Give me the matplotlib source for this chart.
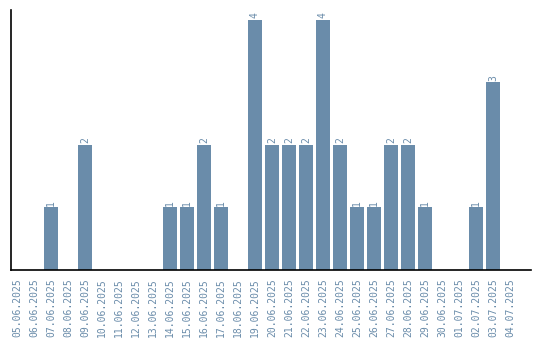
import matplotlib
matplotlib.use("Agg")
import matplotlib.pyplot as plt

dates = ["05.06.2025", "06.06.2025", "07.06.2025", "08.06.2025", "09.06.2025",
         "10.06.2025", "11.06.2025", "12.06.2025", "13.06.2025", "14.06.2025",
         "15.06.2025", "16.06.2025", "17.06.2025", "18.06.2025", "19.06.2025",
         "20.06.2025", "21.06.2025", "22.06.2025", "23.06.2025", "24.06.2025",
         "25.06.2025", "26.06.2025", "27.06.2025", "28.06.2025", "29.06.2025",
         "30.06.2025", "01.07.2025", "02.07.2025", "03.07.2025", "04.07.2025"]
counts = [0, 0, 1, 0, 2, 0, 0, 0, 0, 1,
          1, 2, 1, 0, 4, 2, 2, 2, 4, 2,
          1, 1, 2, 2, 1, 0, 0, 1, 3, 0]

color = "#6a8caa"
fig = plt.figure(figsize=(5.4, 3.4), dpi=100)
ax = fig.add_axes([0.0204, 0.206, 0.963, 0.765])
x = list(range(len(dates)))
bars = ax.bar(x, counts, width=0.82, color=color)
for xi, v in zip(x, counts):
    if v > 0:
        ax.text(xi, v + 0.03, str(v), rotation=90, ha="center", va="bottom",
                color=color, fontsize=7, family="DejaVu Sans Mono")
ax.set_xticks(x)
ax.set_xticklabels(dates, rotation=90, color=color, fontsize=7, family="DejaVu Sans Mono")
ax.tick_params(axis="x", length=0, pad=6)
ax.set_yticks([])
ax.set_xlim(-0.35, 30.24)
ax.set_ylim(0, 4.16)
for s in ["top", "right"]:
    ax.spines[s].set_visible(False)
for s in ["left", "bottom"]:
    ax.spines[s].set_color("black")
    ax.spines[s].set_linewidth(1.2)
fig.savefig("out.png", dpi=100)
